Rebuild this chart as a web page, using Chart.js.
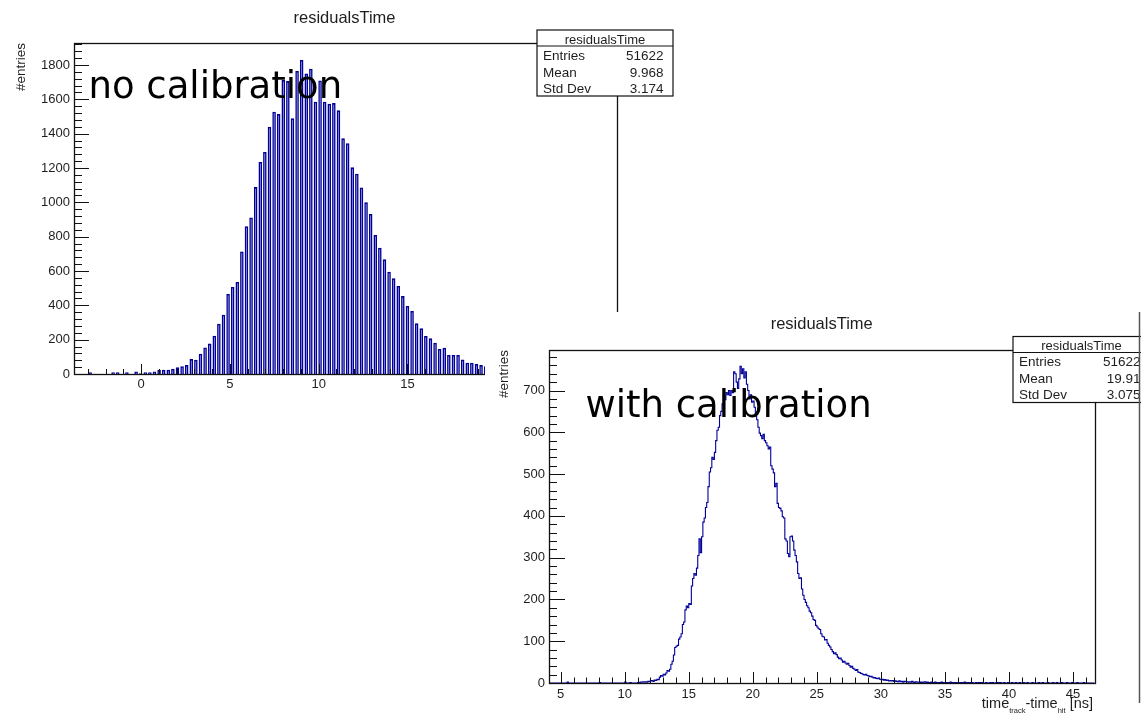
<!DOCTYPE html>
<html>
<head>
<meta charset="utf-8">
<title>residualsTime</title>
<script src="https://cdn.jsdelivr.net/npm/chart.js@4.4.1/dist/chart.umd.min.js"></script>
<style>
  html, body { margin: 0; padding: 0; background: #fff; }
  body { position: relative; width: 1141px; height: 714px; overflow: hidden; }
  #leftCanvas { position: absolute; left: 0; top: 0; }
  #rightPad { position: absolute; left: 485px; top: 312px; width: 656px; height: 402px; background: #fff; overflow: hidden; }
</style>
</head>
<body>
<canvas id="leftCanvas" width="700" height="420"></canvas>
<div id="rightPad"><canvas id="rightCanvas" width="656" height="402"></canvas></div>
<script>
// ---- histogram contents ----
const histName = 'residualsTime';
const yAxisTitle = '#entries';

// before calibration: bin low edge, bin width, contents
const leftBinLow = -3.777;
const leftBinWidth = 0.259;
const leftCounts = [
  0, 0, 0, 10, 0, 0, 0, 0, 10, 10,
  0, 10, 0, 15, 5, 10, 10, 15, 25, 25,
  25, 31, 39, 45, 52, 87, 83, 118, 155, 177,
  223, 293, 345, 466, 507, 536, 714, 860, 912, 1089,
  1235, 1293, 1440, 1528, 1514, 1712, 1706, 1489, 1765, 1829,
  1750, 1778, 1586, 1710, 1586, 1574, 1578, 1536, 1373, 1344,
  1204, 1167, 1087, 1000, 932, 810, 736, 668, 596, 557,
  513, 454, 396, 367, 295, 266, 221, 208, 182, 146,
  153, 111, 111, 111, 85, 66, 66, 58, 52, 45
];

// after calibration: 0.1 ns bins starting at 4.1 ns
const rightBinLow = 4.1;
const rightBinWidth = 0.1;
const rightCounts = [
  0, 0, 0, 0, 0, 0, 0, 0, 0, 0,
  0, 0, 0, 0, 2, 0, 0, 0, 0, 0,
  0, 0, 0, 0, 0, 0, 0, 0, 0, 0,
  0, 0, 0, 0, 0, 0, 0, 0, 0, 1,
  0, 0, 0, 0, 0, 0, 0, 0, 0, 0,
  0, 0, 0, 0, 0, 0, 0, 0, 0, 2,
  0, 0, 0, 1, 0, 0, 0, 0, 0, 1,
  0, 2, 2, 3, 2, 3, 2, 4, 3, 5,
  6, 4, 7, 6, 9, 8, 14, 18, 16, 21,
  19, 24, 30, 28, 33, 45, 52, 67, 85, 88,
  90, 105, 110, 118, 140, 146, 175, 184, 180, 190,
  188, 232, 250, 262, 258, 275, 305, 345, 312, 350,
  385, 395, 420, 432, 470, 505, 515, 540, 535, 552,
  580, 605, 612, 640, 650, 668, 690, 678, 695, 690,
  700, 688, 700, 695, 745, 740, 720, 705, 728, 758,
  740, 752, 730, 745, 715, 700, 680, 690, 672, 675,
  660, 640, 630, 612, 598, 592, 585, 595, 580, 575,
  568, 560, 565, 520, 512, 503, 470, 478, 430, 420,
  418, 412, 398, 395, 345, 340, 310, 302, 350, 352,
  340, 318, 305, 290, 262, 250, 252, 225, 210, 200,
  193, 185, 180, 172, 168, 160, 152, 150, 138, 134,
  130, 128, 118, 112, 110, 103, 104, 95, 90, 86,
  80, 75, 70, 72, 68, 62, 58, 60, 55, 50,
  52, 48, 45, 47, 42, 38, 40, 35, 33, 30,
  32, 26, 25, 23, 22, 20, 19, 21, 18, 17,
  15, 16, 14, 12, 13, 11, 10, 12, 9, 8,
  9, 7, 8, 6, 7, 5, 6, 5, 6, 4,
  5, 4, 3, 5, 3, 4, 2, 4, 3, 3,
  2, 3, 2, 4, 2, 1, 3, 2, 2, 1,
  2, 1, 2, 3, 1, 2, 1, 1, 2, 1,
  1, 2, 1, 0, 1, 1, 2, 1, 0, 1,
  1, 0, 1, 2, 1, 0, 1, 1, 0, 1,
  0, 1, 1, 0, 2, 1, 0, 1, 0, 1,
  1, 0, 0, 1, 0, 1, 1, 0, 1, 0,
  0, 1, 0, 0, 1, 0, 1, 0, 0, 1,
  1, 0, 1, 0, 0, 1, 0, 0, 1, 0,
  0, 1, 0, 0, 1, 0, 0, 1, 0, 0,
  1, 0, 0, 1, 0, 0, 0, 1, 0, 0,
  0, 0, 1, 0, 0, 1, 0, 0, 0, 1,
  0, 0, 0, 1, 0, 0, 1, 0, 0, 0,
  1, 0, 0, 0, 1, 0, 0, 0, 1, 0,
  0, 0, 1, 0, 0, 0, 0, 1, 0, 0,
  0, 0, 0, 0, 0, 0
];

// statistics boxes
const statLabels = ['Entries', 'Mean', 'Std Dev'];
const leftStats = ['51622', '9.968', '3.174'];
const rightStats = ['51622', '19.91', '3.075'];

// axis ranges and labelled ticks
const leftXRange = [-3.777, 26.8];
const leftYRange = [0, 1928];
const rightXRange = [4.086, 46.72];
const rightYRange = [0, 797];
const leftXTicks = [0, 5, 10, 15, 20, 25];
const leftYTicks = [0, 200, 400, 600, 800, 1000, 1200, 1400, 1600, 1800];
const rightXTicks = [5, 10, 15, 20, 25, 30, 35, 40, 45];
const rightYTicks = [0, 100, 200, 300, 400, 500, 600, 700];

// x-axis title of the calibrated histogram: [text, isSubscript]
const xTitleParts = [['time', false], ['track', true], ['-time', false], ['hit', true], [' [ns]', false]];

// ---- drawing helpers ----
const ROOT_FONT = '"Liberation Sans", Arial, Helvetica, sans-serif';
const NOTE_FONT = '"DejaVu Sans", sans-serif';
const INK = '#000099';
const TEXT = '#1e1e1e';

function binCentres(low, width, counts) {
  return counts.map((c, i) => ({ x: low + (i + 0.5) * width, y: c }));
}

function fixedTicks(values) {
  return function (scale) { scale.ticks = values.map(v => ({ value: v })); };
}

function drawTicks(ctx, chart, t) {
  const { chartArea: a, scales: { x, y } } = chart;
  ctx.beginPath();
  const xr = Math.round(t.xMajor / t.xMinor);
  for (let i = Math.ceil(x.min / t.xMinor); i <= Math.floor(x.max / t.xMinor); i++) {
    const px = Math.round(x.getPixelForValue(i * t.xMinor)) + 0.5;
    const len = (i % xr === 0) ? t.xMajorLen : t.xMinorLen;
    ctx.moveTo(px, a.bottom);
    ctx.lineTo(px, a.bottom - len);
  }
  const yr = Math.round(t.yMajor / t.yMinor);
  for (let j = Math.ceil(y.min / t.yMinor); j <= Math.floor(y.max / t.yMinor); j++) {
    const py = Math.round(y.getPixelForValue(j * t.yMinor)) + 0.5;
    const len = (j % yr === 0) ? t.yMajorLen : t.yMinorLen;
    ctx.moveTo(a.left, py);
    ctx.lineTo(a.left + len, py);
  }
  ctx.strokeStyle = '#111';
  ctx.lineWidth = 1;
  ctx.stroke();
}

function drawStatsBox(ctx, b, values) {
  ctx.fillStyle = '#fff';
  ctx.fillRect(b.x, b.y, b.w, b.h);
  ctx.strokeStyle = '#111';
  ctx.lineWidth = 1.2;
  ctx.strokeRect(b.x, b.y, b.w, b.h);
  ctx.beginPath();
  ctx.moveTo(b.x, b.y + 16);
  ctx.lineTo(b.x + b.w, b.y + 16);
  ctx.stroke();
  ctx.fillStyle = TEXT;
  ctx.textBaseline = 'alphabetic';
  ctx.font = '13px ' + ROOT_FONT;
  ctx.textAlign = 'center';
  ctx.fillText(histName, b.x + b.w / 2, b.y + 13.5);
  ctx.font = '13.5px ' + ROOT_FONT;
  const rows = [29.5, 46.5, 62.5];
  statLabels.forEach((lab, i) => {
    ctx.textAlign = 'left';
    ctx.fillText(lab, b.x + 6, b.y + rows[i]);
    ctx.textAlign = 'right';
    ctx.fillText(values[i], b.x + b.w - 9.5, b.y + rows[i]);
  });
}

function panelDecor(d) {
  return {
    id: 'panelDecor',
    afterDatasetsDraw(chart) {
      const { ctx, chartArea: a } = chart;
      ctx.save();
      // frame
      ctx.strokeStyle = '#111';
      ctx.lineWidth = 1.3;
      ctx.strokeRect(Math.round(a.left) + 0.5, Math.round(a.top) + 0.5,
                     Math.round(a.right - a.left), Math.round(a.bottom - a.top));
      drawTicks(ctx, chart, d.ticks);

      // annotation over the histogram
      ctx.fillStyle = '#000';
      ctx.font = '37px ' + NOTE_FONT;
      ctx.textAlign = 'left';
      ctx.textBaseline = 'alphabetic';
      ctx.fillText(d.note.text, d.note.x, d.note.y);

      // histogram title
      ctx.fillStyle = TEXT;
      ctx.font = '16.5px ' + ROOT_FONT;
      ctx.textAlign = 'center';
      ctx.fillText(histName, d.title.x, d.title.y);

      // y-axis title, rotated, flush with the top of the frame
      ctx.save();
      ctx.translate(d.yTitle.x, a.top);
      ctx.rotate(-Math.PI / 2);
      ctx.font = '13.5px ' + ROOT_FONT;
      ctx.textAlign = 'right';
      ctx.fillText(yAxisTitle, 0, 0);
      ctx.restore();

      // x-axis title with subscripts, flush with the right end
      if (d.xTitle) {
        const big = '14.5px ' + ROOT_FONT, small = '7.5px ' + ROOT_FONT;
        let total = 0;
        xTitleParts.forEach(([s, sub]) => { ctx.font = sub ? small : big; total += ctx.measureText(s).width; });
        let cx = d.xTitle.x - total;
        ctx.textAlign = 'left';
        xTitleParts.forEach(([s, sub]) => {
          ctx.font = sub ? small : big;
          ctx.fillText(s, cx, d.xTitle.y + (sub ? 5 : 0));
          cx += ctx.measureText(s).width;
        });
      }

      drawStatsBox(ctx, d.stats, d.statValues);

      if (d.edge) {
        ctx.strokeStyle = '#555';
        ctx.lineWidth = 1.5;
        ctx.beginPath();
        ctx.moveTo(d.edge.x, 0);
        ctx.lineTo(d.edge.x, d.edge.y);
        ctx.stroke();
      }
      ctx.restore();
    }
  };
}

function tickOptions(pad) {
  return {
    maxRotation: 0, autoSkip: false, padding: pad, color: TEXT,
    font: { family: ROOT_FONT, size: 13 },
    callback: v => String(v)
  };
}

Chart.defaults.animation = false;

// ---- histogram without calibration ----
new Chart(document.getElementById('leftCanvas'), {
  type: 'bar',
  data: {
    datasets: [{
      data: binCentres(leftBinLow, leftBinWidth, leftCounts),
      backgroundColor: '#9e9edc',
      borderColor: INK,
      borderWidth: 1.6,
      barPercentage: 0.78,
      categoryPercentage: 1
    }]
  },
  options: {
    responsive: false,
    devicePixelRatio: 1,
    layout: { padding: { left: 0, top: 43, right: 83, bottom: 16 } },
    plugins: { legend: { display: false }, tooltip: { enabled: false } },
    scales: {
      x: {
        type: 'linear', offset: false,
        min: leftXRange[0], max: leftXRange[1],
        grid: { display: false, drawTicks: false }, border: { display: false },
        ticks: tickOptions(3),
        afterBuildTicks: fixedTicks(leftXTicks),
        afterFit(s) { s.height = 30; }
      },
      y: {
        min: leftYRange[0], max: leftYRange[1],
        grid: { display: false, drawTicks: false }, border: { display: false },
        ticks: tickOptions(4),
        afterBuildTicks: fixedTicks(leftYTicks),
        afterFit(s) { s.width = 74; }
      }
    }
  },
  plugins: [panelDecor({
    ticks: { xMinor: 1, xMajor: 5, xMinorLen: 5, xMajorLen: 10, yMinor: 40, yMajor: 200, yMinorLen: 8, yMajorLen: 15 },
    note: { text: 'no calibration', x: 88.5, y: 98 },
    title: { x: 344.5, y: 23 },
    yTitle: { x: 25 },
    stats: { x: 537, y: 30, w: 136, h: 66 },
    statValues: leftStats
  })]
});

// ---- histogram with calibration ----
new Chart(document.getElementById('rightCanvas'), {
  type: 'line',
  data: {
    datasets: [{
      data: binCentres(rightBinLow, rightBinWidth, rightCounts),
      borderColor: INK,
      borderWidth: 1.1,
      stepped: 'middle',
      pointRadius: 0,
      fill: false
    }]
  },
  options: {
    responsive: false,
    devicePixelRatio: 1,
    layout: { padding: { left: 0, top: 38, right: 46, bottom: 11 } },
    plugins: { legend: { display: false }, tooltip: { enabled: false } },
    scales: {
      x: {
        type: 'linear',
        min: rightXRange[0], max: rightXRange[1],
        grid: { display: false, drawTicks: false }, border: { display: false },
        ticks: tickOptions(4),
        afterBuildTicks: fixedTicks(rightXTicks),
        afterFit(s) { s.height = 20; }
      },
      y: {
        min: rightYRange[0], max: rightYRange[1],
        grid: { display: false, drawTicks: false }, border: { display: false },
        ticks: tickOptions(4),
        afterBuildTicks: fixedTicks(rightYTicks),
        afterFit(s) { s.width = 64; }
      }
    }
  },
  plugins: [panelDecor({
    ticks: { xMinor: 1, xMajor: 5, xMinorLen: 5.5, xMajorLen: 11, yMinor: 20, yMajor: 100, yMinorLen: 8, yMajorLen: 16 },
    note: { text: 'with calibration', x: 100.5, y: 104.7 },
    title: { x: 336.7, y: 17.3 },
    yTitle: { x: 23 },
    xTitle: { x: 608, y: 395.5 },
    stats: { x: 528, y: 24.5, w: 137, h: 66 },
    statValues: rightStats,
    edge: { x: 654.5, y: 391 }
  })]
});
</script>
</body>
</html>
